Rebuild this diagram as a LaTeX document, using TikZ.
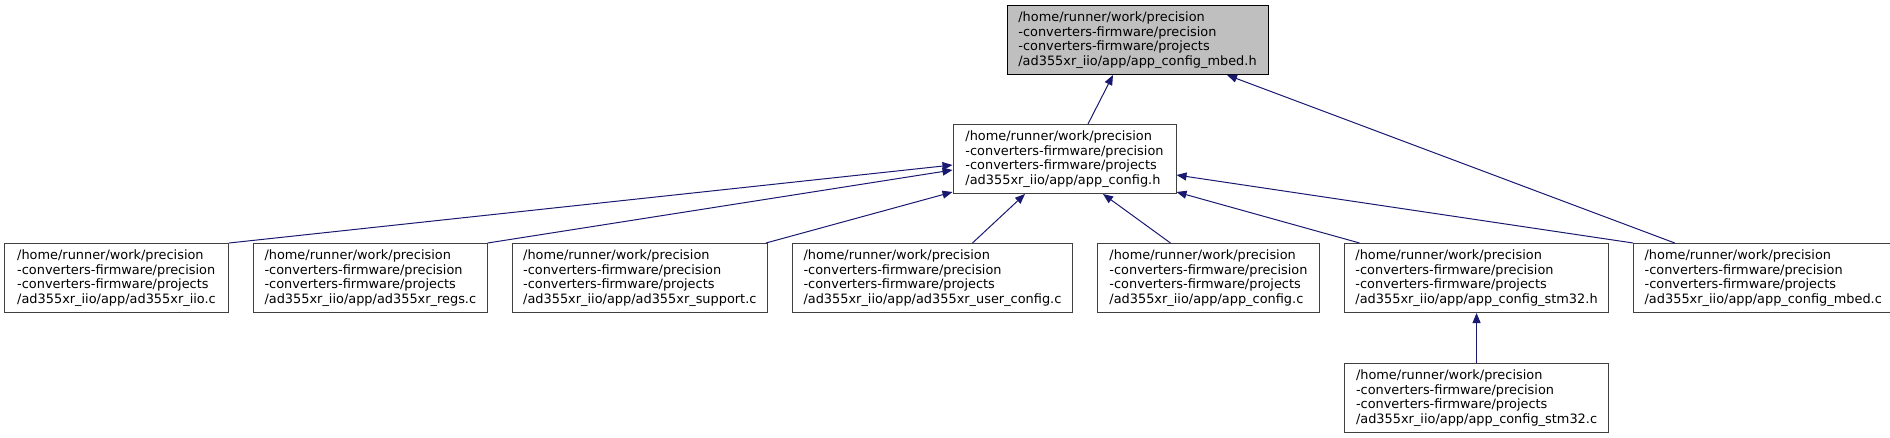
\documentclass[tikz,border=0pt]{standalone}
\usepackage{fontspec}
\setmainfont{DejaVu Sans}
\usepackage{xcolor}
\usepackage{tikz}
\usetikzlibrary{arrows.meta,positioning}

\definecolor{edgeblue}{HTML}{191970}
\definecolor{boxline}{HTML}{404040}
\definecolor{topfill}{HTML}{BFBFBF}

\newcommand{\fpath}[1]{/home/runner/work/precision\\-converters-firmware/precision\\-converters-firmware/projects\\#1}

\begin{document}
\begin{tikzpicture}[
    x=1pt, y=-1pt,
    node distance=50pt and 24pt,
    file/.style={draw=boxline, line width=1pt, fill=white, align=left, inner xsep=11pt, inner ysep=0pt, minimum height=69pt, font=\fontsize{12.9}{14.7}\selectfont},
    edge/.style={-{Triangle[length=10pt,width=8pt]}, edgeblue, line width=1pt}
]
\useasboundingbox (0,0) rectangle (1890,437);

% header being documented
\node[file, fill=topfill, draw=black, minimum width=261pt] (mbedh) at (1137.5,40) {\fpath{/ad355xr\_iio/app/app\_config\_mbed.h}};
\node[file, minimum width=223pt] (config) at (1064.5,159) {\fpath{/ad355xr\_iio/app/app\_config.h}};

% files that include it
\node[file, minimum width=224pt, anchor=north west] (iio) at (4,243) {\fpath{/ad355xr\_iio/app/ad355xr\_iio.c}};
\node[file, minimum width=233pt, right=of iio] (regs) {\fpath{/ad355xr\_iio/app/ad355xr\_regs.c}};
\node[file, minimum width=255pt, right=of regs] (support) {\fpath{/ad355xr\_iio/app/ad355xr\_support.c}};
\node[file, minimum width=280pt, right=of support] (userconfig) {\fpath{/ad355xr\_iio/app/ad355xr\_user\_config.c}};
\node[file, minimum width=222pt, right=of userconfig] (configc) {\fpath{/ad355xr\_iio/app/app\_config.c}};
\node[file, minimum width=264pt, right=of configc] (stmh) {\fpath{/ad355xr\_iio/app/app\_config\_stm32.h}};
\node[file, minimum width=259pt, right=of stmh] (mbedc) {\fpath{/ad355xr\_iio/app/app\_config\_mbed.c}};
\node[file, minimum width=264pt, below=of stmh] (stmc) {\fpath{/ad355xr\_iio/app/app\_config\_stm32.c}};

\draw[edge] ([xshift=23.5pt]config.north) -- ([xshift=-24.5pt]mbedh.south);
\draw[edge] ([xshift=-88.5pt]mbedc.north) -- ([xshift=89.5pt]mbedh.south);
\draw[edge] (iio.north east) -- ([yshift=-6pt]config.west);
\draw[edge] (regs.north east) -- ([yshift=-11pt]config.west);
\draw[edge] ([xshift=-2pt]support.north east) -- ([yshift=2pt]config.south west);
\draw[edge] ([xshift=40pt]userconfig.north) -- ([xshift=-39.5pt]config.south);
\draw[edge] ([xshift=-38pt]configc.north) -- ([xshift=38.5pt]config.south);
\draw[edge] ([xshift=-117pt]stmh.north) -- ([yshift=2pt]config.south east);
\draw[edge] (mbedc.north west) -- ([yshift=-16pt]config.east);
\draw[edge] (stmc) -- (stmh);
\end{tikzpicture}
\end{document}
